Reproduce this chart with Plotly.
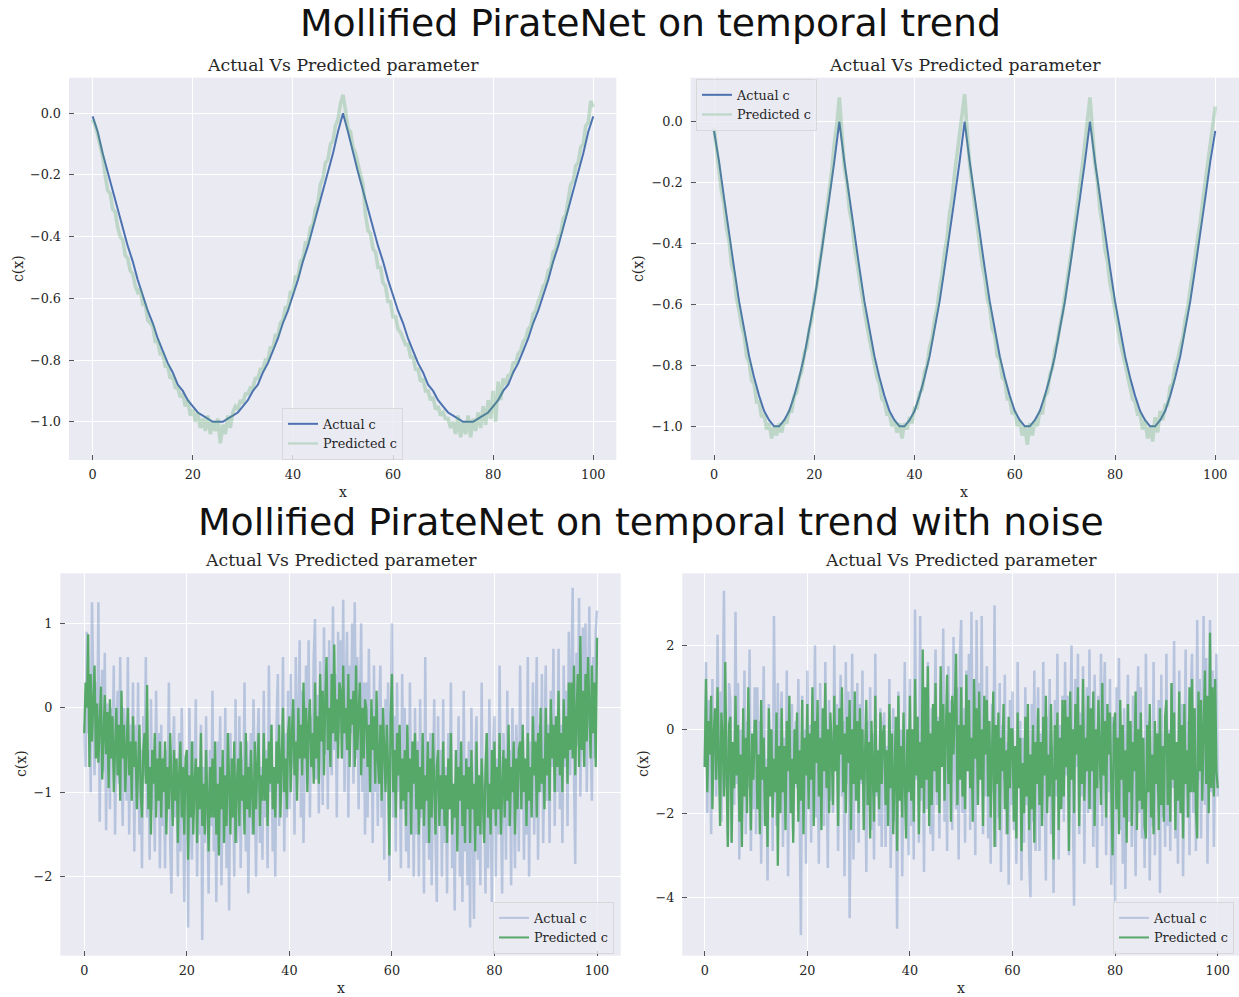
import numpy as np
import plotly.graph_objects as go

# ---------------- data ----------------
X_TICKS = [0, 20, 40, 60, 80, 100]
X_TICKTEXT = ["0", "20", "40", "60", "80", "100"]
Y_TICKS_TOP = [-1.0, -0.8, -0.6, -0.4, -0.2, 0.0]
Y_TICKTEXT_TOP = ["\u22121.0", "\u22120.8", "\u22120.6", "\u22120.4", "\u22120.2", "0.0"]
Y_TICKS_BL = [-2, -1, 0, 1]
Y_TICKTEXT_BL = ["\u22122", "\u22121", "0", "1"]
Y_TICKS_BR = [-4, -2, 0, 2]
Y_TICKTEXT_BR = ["\u22124", "\u22122", "0", "2"]

# top-left: actual c (x = 0..100 step 1)
TL_ACTUAL = [-0.01, -0.06, -0.13, -0.19, -0.25, -0.31, -0.37, -0.43, -0.48, -0.54,
             -0.59, -0.64, -0.68, -0.73, -0.77, -0.81, -0.84, -0.88, -0.90, -0.93,
             -0.95, -0.97, -0.98, -0.99, -1.00, -1.00, -1.00, -0.99, -0.98, -0.97,
             -0.95, -0.93, -0.90, -0.88, -0.84, -0.81, -0.77, -0.73, -0.68, -0.64,
             -0.59, -0.54, -0.48, -0.43, -0.37, -0.31, -0.25, -0.19, -0.13, -0.06,
             0.00,
             -0.06, -0.13, -0.19, -0.25, -0.31, -0.37, -0.43, -0.48, -0.54, -0.59,
             -0.64, -0.68, -0.73, -0.77, -0.81, -0.84, -0.88, -0.90, -0.93, -0.95,
             -0.97, -0.98, -0.99, -1.00, -1.00, -1.00, -0.99, -0.98, -0.97, -0.95,
             -0.93, -0.90, -0.88, -0.84, -0.81, -0.77, -0.73, -0.68, -0.64, -0.59,
             -0.54, -0.48, -0.43, -0.37, -0.31, -0.25, -0.19, -0.13, -0.06, -0.01]

# top-left: predicted c (x = 0..100 step 0.5)
TL_PRED = [-0.02, -0.04, -0.07, -0.11, -0.14,
           -0.20, -0.25, -0.26, -0.31, -0.32, -0.37, -0.40, -0.41, -0.46, -0.47, -0.51, -0.52, -0.56, -0.58,
           -0.57, -0.62, -0.62, -0.67, -0.68, -0.69, -0.74, -0.74, -0.78, -0.78, -0.82, -0.82, -0.86, -0.85,
           -0.89, -0.89, -0.92, -0.91,
           -0.95, -0.93, -0.98, -0.96, -1.00, -0.97, -1.02, -0.99, -1.03, -0.98, -1.04, -1.00, -1.03, -0.99,
           -1.07, -1.01, -1.04, -0.98, -1.02, -0.97,
           -0.95, -0.96, -0.93, -0.94, -0.91, -0.91, -0.89, -0.89, -0.86, -0.86, -0.83, -0.83, -0.80, -0.80,
           -0.76, -0.76, -0.72, -0.72, -0.68, -0.67, -0.63, -0.63, -0.58, -0.58, -0.53, -0.53, -0.48, -0.47,
           -0.42, -0.42, -0.37, -0.36, -0.31, -0.29,
           -0.23, -0.21, -0.16, -0.15, -0.10, -0.09, -0.04, -0.02, 0.03, 0.06,
           0.01, -0.05, -0.06, -0.11, -0.13, -0.17, -0.20, -0.23,
           -0.33, -0.38, -0.39, -0.44, -0.45, -0.50, -0.50, -0.55, -0.56, -0.61, -0.61, -0.66, -0.66, -0.70,
           -0.71, -0.73,
           -0.75, -0.75, -0.79, -0.79, -0.83, -0.83, -0.87, -0.86, -0.90, -0.90, -0.93, -0.92, -0.96, -0.95,
           -0.98, -0.97, -0.99, -0.99, -1.02, -1.00,
           -1.04, -0.98, -1.05, -1.00, -1.04, -0.98, -1.05, -0.99, -1.03, -0.97, -1.02, -0.95,
           -1.01, -0.93, -0.99, -0.90, -1.00, -0.87, -0.93, -0.86,
           -0.88, -0.85, -0.85, -0.81, -0.81, -0.78, -0.77, -0.74, -0.73, -0.70, -0.69, -0.65, -0.64, -0.61,
           -0.59, -0.56, -0.55, -0.51, -0.50, -0.45, -0.44, -0.40, -0.39, -0.34, -0.33, -0.28,
           -0.23, -0.22, -0.17, -0.16, -0.11, -0.10, -0.04, -0.03, 0.04, 0.02]

# top-right: actual c (x = 0..100 step 1)
TR_ACTUAL = [-0.03,
             -0.13, -0.25, -0.37, -0.48, -0.59, -0.68, -0.77, -0.84, -0.90, -0.95, -0.98, -1.00,
             -1.00, -0.98, -0.95, -0.90, -0.84, -0.77, -0.68, -0.59, -0.48, -0.37, -0.25, -0.13, 0.00,
             -0.13, -0.25, -0.37, -0.48, -0.59, -0.68, -0.77, -0.84, -0.90, -0.95, -0.98, -1.00,
             -1.00, -0.98, -0.95, -0.90, -0.84, -0.77, -0.68, -0.59, -0.48, -0.37, -0.25, -0.13, 0.00,
             -0.13, -0.25, -0.37, -0.48, -0.59, -0.68, -0.77, -0.84, -0.90, -0.95, -0.98, -1.00,
             -1.00, -0.98, -0.95, -0.90, -0.84, -0.77, -0.68, -0.59, -0.48, -0.37, -0.25, -0.13, 0.00,
             -0.13, -0.25, -0.37, -0.48, -0.59, -0.68, -0.77, -0.84, -0.90, -0.95, -0.98, -1.00,
             -1.00, -0.98, -0.95, -0.90, -0.84, -0.77, -0.68, -0.59, -0.48, -0.37, -0.25, -0.13, -0.03]

# top-right: predicted c (x = 0..100 step 0.5)
TR_PRED = [-0.02, -0.09, -0.16, -0.23, -0.27, -0.35, -0.39, -0.47, -0.50, -0.58,
           -0.62, -0.67, -0.70, -0.77, -0.79, -0.85, -0.86, -0.92, -0.92, -0.97,
           -0.96, -1.01, -0.99, -1.04, -1.00, -1.03, -0.99, -1.02, -0.98, -0.99,
           -0.95, -0.95, -0.90, -0.89, -0.84, -0.82, -0.76, -0.74, -0.68, -0.65,
           -0.58, -0.54, -0.47, -0.42, -0.35, -0.29, -0.22, -0.16, -0.07, -0.01, 0.08,
           -0.04, -0.15, -0.20, -0.29, -0.33, -0.41, -0.46, -0.52, -0.57, -0.62,
           -0.67, -0.71, -0.76, -0.79, -0.84, -0.86, -0.91, -0.92, -0.96, -0.96,
           -1.00, -0.98, -1.02, -0.99, -1.04, -0.99, -1.01, -0.97, -0.99, -0.94,
           -0.94, -0.89, -0.88, -0.82, -0.80, -0.74, -0.71, -0.65, -0.61, -0.55,
           -0.50, -0.43, -0.38, -0.30, -0.25, -0.17, -0.11, -0.05, 0.01, 0.09,
           -0.03, -0.14, -0.21, -0.28, -0.34, -0.40, -0.47, -0.51, -0.58, -0.61,
           -0.68, -0.70, -0.77, -0.78, -0.84, -0.85, -0.91, -0.91, -0.96, -0.95,
           -1.00, -0.98, -1.03, -1.00, -1.06, -0.99, -1.03, -0.98, -1.00, -0.95,
           -0.96, -0.90, -0.89, -0.83, -0.81, -0.75, -0.72, -0.67, -0.63, -0.57,
           -0.52, -0.46, -0.40, -0.34, -0.27, -0.21, -0.14, -0.07, 0.00, 0.08,
           -0.03, -0.14, -0.20, -0.29, -0.34, -0.42, -0.46, -0.53, -0.57, -0.63,
           -0.67, -0.72, -0.76, -0.80, -0.84, -0.87, -0.91, -0.92, -0.96, -0.96,
           -1.01, -0.98, -1.04, -1.00, -1.05, -0.97, -1.02, -0.95, -0.98, -0.93,
           -0.93, -0.87, -0.86, -0.80, -0.78, -0.74, -0.71, -0.65, -0.61, -0.55,
           -0.50, -0.44, -0.38, -0.33, -0.26, -0.20, -0.13, -0.07, -0.01, 0.05]

# bottom-left (with noise): x = 0..100 step 0.25
BL_ACTUAL = [
    -0.2, -0.7, 0.9, -0.3, 0.4, -1.0, 1.25, 0.0, -0.8, 0.3, -0.55, 1.25, -1.35, -0.05, 0.45, -0.75, 0.65, -1.45, 0.05, -0.35,
    -1.2, 0.0, -0.6, 0.5, -1.5, -0.3, 0.2, -0.9, 0.6, -0.7, -1.4, 0.0, -0.3, -1.1, 0.6, -1.5, -0.2, -0.9, 0.3, -1.7,
    -0.2, -1.0, 0.3, -1.5, -0.5, -1.9, -0.1, -0.8, 0.6, -1.3, -0.5, -1.8, 0.1, -1.2, -0.7, -1.7, 0.2, -1.0, -0.3, -1.9,
    -0.2, -1.4, -0.6, -1.9, -0.5, -1.1, 0.3, -1.6, -2.2, -0.6, -0.1, -1.3, -0.8, -2.0, -0.3, -1.7, 0.0, -1.0, -2.3, -0.7,
    -0.6, -2.6, 0.0, -1.3, -1.8, -0.4, -1.1, 0.1, -2.0, -0.8, -1.5, -0.2, -2.75, -0.7, -1.6, -0.1, -1.2, -2.2, -0.5, -1.4,
    0.2, -1.7, -0.7, -2.3, -0.4, -1.2, -0.1, -2.1, -0.9, -1.5, 0.0, -1.9, -0.6, -2.4, -0.3, -1.3, -0.8, -2.0, 0.1, -1.6,
    -1.3, -0.1, -1.9, -0.6, -1.1, 0.3, -1.7, -0.4, -2.2, -0.8, -0.3, -1.5, 0.1, -1.0, -2.0, -0.5, 0.0, -1.6, -0.7, -1.8,
    0.2, -1.3, -0.5, -1.9, 0.5, -1.0, -0.2, -1.7, -0.7, -2.0, -0.2, 0.4, -1.4, -0.5, -1.0, 0.6, -1.7, -0.3, -1.3, 0.2,
    -1.2, 0.4, -0.7, 0.0, -1.5, 0.6, -0.9, -0.3, 0.8, -1.3, 0.2, -1.6, -0.3, 0.5, -0.9, 0.8, -1.3, -0.1, -0.5, 0.6,
    1.05, -0.85, 0.15, -1.25, 0.55, -0.15, -1.15, 0.95, -0.55, 0.35, -1.2, 0.8, 0.1, -0.8, 1.2, -0.5, 0.4, -1.3, 0.9, -0.3,
    0.8, -0.6, 1.28, -1.0, 0.2, 0.9, -1.3, 0.5, -0.3, 1.0, -0.9, 1.25, -0.6, 0.6, -1.2, 0.0, 1.0, -1.0, 0.3, -1.5,
    0.3, -1.3, 0.7, -0.7, 0.0, -1.6, 0.5, -1.0, -0.2, -1.4, 0.0, 0.5, -1.3, -0.2, -1.8, 0.1, -0.9, 0.3, -2.05, -0.4,
    1.0, -1.3, -0.1, -1.7, 0.3, -1.0, -0.5, -1.9, 0.4, -1.2, 0.0, -1.7, -0.5, -1.9, 0.3, -1.0, -0.4, -2.0, 0.0, -1.5,
    -0.4, -2.0, 0.1, -1.3, -0.8, -2.2, 0.6, -1.6, -0.6, -1.8, -0.3, -2.1, -0.7, 0.1, -1.5, -2.3, -0.1, -1.2, -0.5, -2.0,
    0.1, -1.6, -0.7, -2.2, -0.3, -1.2, 0.3, -1.9, -0.9, -2.4, -0.5, -1.4, -0.1, -2.0, -0.8, -2.3, 0.2, -1.7, -0.6, -2.1,
    -0.4, -2.6, 0.0, -1.3, -2.5, -0.6, -0.1, -1.8, -0.8, -2.1, 0.3, -1.5, -0.9, -2.2, -0.3, -1.9, 0.1, -1.2, -2.3, -0.5,
    -0.1, -2.0, -0.6, -1.5, 0.5, -1.1, -2.2, -0.3, -0.8, -1.8, 0.2, -1.4, -0.5, -2.1, 0.0, -1.0, -1.9, -0.2, -0.7, -1.7,
    0.5, -1.2, -0.2, -1.8, -0.6, -1.5, 0.6, -2.0, -0.4, -1.0, 0.3, -1.5, -0.6, 0.6, -1.8, -0.2, -1.0, 0.4, -1.6, -0.4,
    0.5, -1.1, -0.2, -1.6, 0.2, -0.7, 0.7, -1.4, -0.1, -1.0, 0.7, -1.2, -0.2, -1.6, 0.5, -0.7, 0.2, -1.4, 0.9, -0.8,
    0.55, 1.42, -0.75, -1.85, 0.65, -0.45, 1.3, -1.05, 0.05, 0.95, -0.7, 1.0, -1.0, 0.3, 1.2, -0.4, -1.1, 0.6, -0.6, 0.9,
    1.15]

BL_PRED = [
    -0.3, 0.3, 0.0, 0.87, -0.7, 0.4, -0.4, 0.1, 0.5, -0.6, 0.05, -0.65, -0.15, 0.25, -0.85, -0.35, 0.15, -0.55, -0.05, -0.95,
    0.1, -0.6, -0.1, -1.0, -0.3, 0.0, -0.8, -0.2, -1.1, 0.2, -0.6, -0.2, -1.0, -0.3, 0.0, -0.8, -0.4, -1.1, -0.1, -0.7,
    -0.4, -1.2, -0.6, -0.2, -1.0, -1.3, -0.5, -0.3, -0.9, 0.27, -1.2, -0.7, -1.5, -0.5, -0.9, -0.3, -1.3, -0.6, -1.1, -0.4,
    -1.3, -0.6, -1.0, -0.4, -1.5, -0.7, -1.2, -0.3, -0.9, -1.4, -0.5, -1.1, -0.6, -1.6, -0.8, -0.4, -1.3, -0.7, -1.5, -0.6,
    -0.5, -1.8, -0.8, -1.3, -0.4, -1.5, -0.9, -0.6, -1.6, -0.7, -1.2, -0.3, -1.4, -0.9, -1.5, -0.5, -1.1, -1.7, -0.7, -1.3,
    -0.6, -1.3, -0.4, -1.5, -0.9, -1.75, -0.7, -1.2, -0.5, -1.6, -0.8, -1.4, -0.3, -1.1, -1.5, -0.6, -1.3, -0.4, -1.6, -0.9,
    -0.6, -1.4, -0.4, -1.1, -0.8, -1.5, -0.3, -1.2, -0.7, -1.3, -0.5, -1.0, -1.5, -0.4, -1.2, -0.7, -0.3, -1.4, -0.8, -1.1,
    -0.3, -1.1, -0.6, -1.4, -0.4, -0.9, -0.2, -1.2, -0.7, -1.3, -0.4, -0.9, -0.2, -1.3, -0.5, 0.0, -1.0, -0.6, -1.2, -0.3,
    -0.1, -1.0, -0.3, 0.1, -0.8, -0.4, -1.1, 0.0, -0.6, -0.2, -0.8, 0.3, -0.6, 0.0, -1.0, -0.2, 0.1, -0.7, -0.3, -0.9,
    0.3, -0.6, -0.1, -0.9, 0.4, -0.4, 0.2, -0.8, 0.1, 0.6, -0.5, 0.0, -0.7, 0.4, -0.3, 0.75, -0.4, 0.1, -0.6, 0.3,
    0.2, -0.6, 0.5, -0.3, 0.0, -0.5, 0.4, -0.7, 0.1, -0.2, 0.2, -0.7, 0.5, -0.5, -0.1, 0.3, -0.8, 0.0, -0.6, 0.1,
    0.0, -0.7, -0.2, -1.0, 0.1, -0.5, -0.1, -0.9, 0.2, -0.6, -0.9, -0.2, -1.1, 0.0, -0.5, -1.0, -0.2, -0.7, -1.75, -0.1,
    0.4, -1.0, -0.5, -1.3, -0.3, -0.8, -0.2, -1.2, -0.6, -1.1, -0.5, -1.4, -0.2, -1.0, -0.6, -1.5, -0.4, -0.9, -0.3, -1.2,
    -0.5, -1.5, -0.7, -1.2, -0.3, -1.4, -0.8, -1.1, -0.4, -1.6, -0.6, -1.3, -0.3, -1.0, -1.5, -0.7, -0.5, -1.4, -0.8, -1.2,
    -0.4, -1.4, -0.8, -1.6, -0.6, -1.2, -0.3, -1.5, -0.9, -1.3, -0.5, -1.7, -0.7, -1.1, -0.4, -1.4, -0.8, -1.6, -0.6, -1.2,
    -0.7, -1.6, -0.5, -1.2, -0.9, -1.7, -0.4, -1.4, -0.8, -1.5, -0.6, -1.1, -1.6, -0.7, -0.3, -1.3, -0.9, -1.5, -0.5, -1.2,
    -0.4, -1.4, -0.7, -1.2, -0.3, -1.5, -0.8, -0.5, -1.3, -0.6, -1.1, -0.2, -1.4, -0.7, -1.0, -0.4, -1.5, -0.6, -1.2, -0.5,
    -0.4, -1.2, -0.2, -1.0, -0.6, -1.4, -0.3, -1.1, -0.7, -1.3, -0.1, -0.8, -0.4, -1.3, -0.3, -1.0, 0.0, -0.9, -0.6, -1.2,
    0.0, -0.8, -0.3, -1.1, 0.1, -0.6, -0.2, -1.0, -0.1, -0.7, 0.2, -0.8, -0.3, -1.0, 0.1, -0.6, -0.1, -0.9, 0.3, -0.5,
    0.3, -0.6, 0.5, -0.8, -0.1, 0.4, -0.7, 0.85, -0.5, 0.2, -0.7, 0.4, -0.4, 0.6, 0.0, -0.6, 0.5, -0.3, 0.3, -0.7,
    0.83]

# bottom-right (with noise): x = 0..100 step 0.25
BR_ACTUAL = [
    -0.9, 1.6, -2.0, 0.7, -0.1, -2.5, 1.2, -1.2, 0.2, -1.6, 2.25, -0.7, 0.9, -2.2, 0.5, 3.3, -1.4, -0.2, -2.6, 1.1,
    0.7, -2.7, -0.4, -1.8, 2.8, -1.3, 1.1, -3.1, 0.0, -2.2, -0.7, 1.4, -2.5, 0.2, -1.4, 1.9, -2.9, -0.3, -1.9, 1.0,
    -2.5, 1.0, -1.7, 0.2, -3.2, -0.4, 1.5, -2.2, -0.7, -3.6, 0.6, -1.4, 0.0, -2.9, 2.7, -0.8, -2.3, 1.1, -1.9, -0.2,
    0.9, -2.8, -0.2, -1.8, 1.4, -3.5, 0.1, -1.1, 0.6, -2.5, -0.5, 0.2, -1.4, 1.2, -2.2, -4.9, 0.8, -1.7, 0.0, -3.2,
    1.4, -1.5, 0.1, -2.7, 0.8, -0.8, 2.0, -2.1, -0.3, -3.2, 1.1, -1.2, 0.3, -2.3, 1.6, -0.6, -3.3, 0.7, -1.7, 0.0,
    -2.0, 2.0, -1.0, 0.6, -2.9, -0.1, 1.3, -1.6, 0.2, -3.5, 1.6, -1.3, 0.9, -4.5, -0.6, 1.8, -3.1, 0.4, -1.4, 1.1,
    -2.7, 0.6, -1.3, 1.4, -2.1, -0.4, -3.4, 0.2, -1.0, 1.0, -2.4, -0.1, -3.1, 1.8, -1.6, -0.6, -2.3, 0.5, -2.8, 0.1,
    0.4, -2.8, -0.4, -1.9, 1.2, -3.3, -0.8, 0.5, -2.2, -0.2, -4.75, 0.9, -1.6, 0.0, -3.5, -0.6, 1.6, -2.4, -0.9, -3.0,
    1.2, -2.3, 0.0, -3.1, 2.85, -1.2, 0.3, -2.7, 2.7, -1.7, -0.3, -3.4, 0.9, -1.9, 1.6, -1.0, -2.5, 0.5, -2.9, 0.1,
    1.9, -1.8, 0.3, -2.6, 1.2, -0.9, 2.4, -2.2, -0.1, -2.9, 1.5, -1.3, 0.7, -2.4, 2.2, -0.6, -1.9, 1.0, -3.1, 1.8,
    2.6, -2.0, 0.5, -2.7, 1.4, -1.0, 1.8, -2.4, 2.8, -1.4, 0.0, -3.0, 2.6, -1.8, 1.1, -0.7, 2.7, -2.5, 0.4, -1.6,
    1.5, -2.6, -0.2, -3.2, 0.6, -1.5, 2.95, -2.8, -0.6, -2.1, 1.1, -3.4, 0.1, -1.2, 1.3, -2.5, -0.3, -3.7, 0.7, -1.8,
    0.9, -2.4, -0.5, -3.2, 1.6, -1.3, 0.2, -3.6, -0.2, -2.7, 1.0, -1.8, -0.7, -3.1, -4.0, 0.6, -2.2, 1.4, -2.9, -0.3,
    1.0, -2.9, -0.1, -2.1, 1.6, -1.3, -3.6, 0.3, -1.0, 1.2, -2.5, -0.4, -3.9, 0.7, -1.6, 1.8, -3.1, 0.1, -1.8, 0.8,
    -2.2, 1.6, -1.1, 0.8, -3.0, 0.1, 2.0, -1.7, -4.2, 1.2, -0.9, 1.8, -2.5, 0.4, -1.6, 1.5, -3.2, -0.1, 1.0, -2.0,
    1.9, -1.9, 0.2, -2.8, 1.3, -0.7, -3.3, 0.8, -1.2, 1.8, -2.3, 0.5, 1.6, -3.0, -0.2, -1.5, 1.2, -3.7, 0.3, -1.8,
    -4.1, 1.0, -1.7, 1.7, -2.4, -0.2, -3.2, 0.5, -3.8, -0.5, 1.3, -2.2, 0.1, -2.8, 0.8, -1.3, -3.5, 0.2, 1.5, -2.0,
    1.0, -2.6, -0.3, -3.3, 1.8, -1.4, 0.2, -3.6, -0.6, -2.3, 1.6, -3.0, -0.1, -1.5, 0.7, -3.9, 1.3, -2.1, -0.8, -2.8,
    1.8, -2.3, 0.0, -2.9, 1.1, -1.4, 2.1, -2.6, -0.4, -3.2, 1.4, -1.8, 0.6, -3.5, -0.3, 1.9, -2.1, 0.2, -3.0, 0.9,
    1.8, -2.0, 0.5, -2.9, 2.6, -1.2, 1.2, -2.6, -0.1, 2.7, -1.8, 1.7, -3.2, 0.3, 2.6, -1.5, 1.4, -2.8, 0.1, 1.8,
    -1.6]

BR_PRED = [
    -0.9, 1.2, -1.5, 0.2, -0.6, 0.8, -1.9, -0.1, 0.5, -1.2, 1.0, -0.8, -2.3, 0.4, -0.3, -1.6, 1.6, -1.0, -2.8, 0.1,
    0.3, -2.7, -0.3, -1.4, 0.8, -1.1, 0.1, -2.2, -0.6, -2.8, 0.5, -1.6, -0.2, -2.0, 1.0, -0.9, -2.4, -0.1, -1.2, 0.2,
    0.2, -1.9, -0.6, -2.5, 0.7, -1.2, -0.2, -2.3, -0.9, -2.8, 0.5, -1.6, 0.0, -2.1, -0.7, -1.5, 0.4, -3.25, -0.4, -2.0,
    0.5, -1.5, -0.4, -2.4, 0.2, -1.0, 0.8, -2.0, -0.7, -2.7, 0.0, -1.3, 0.4, -2.2, -0.5, -1.7, 0.7, -2.5, -0.2, -1.1,
    0.6, -1.9, -0.1, -1.2, 1.0, -2.3, 0.2, -0.8, 0.7, -1.6, -0.2, -2.4, 0.5, -1.0, 1.1, -1.4, 0.0, -2.0, 0.4, -0.5,
    -1.8, 0.8, -1.0, 0.1, -2.3, 0.5, -0.6, 1.0, -1.5, -0.1, -2.0, 0.3, -0.8, 0.7, -2.4, 0.0, -1.3, 0.9, -1.7, 0.2,
    -2.0, 0.5, -1.2, 0.0, -2.4, -0.6, 0.7, -1.8, -0.3, -2.6, 0.2, -1.0, -2.2, 0.8, -1.5, -0.5, -1.9, 0.4, -1.3, -0.1,
    0.1, -1.8, -0.5, -2.3, 0.6, -1.4, -0.1, -2.5, -0.8, 0.3, -2.9, 0.8, -1.7, -0.4, -2.1, 0.4, -1.2, -2.6, 0.0, -1.5,
    0.8, -1.7, 0.0, -2.2, 1.2, -1.1, 0.3, -2.5, -0.3, -1.4, 1.9, -2.0, 1.0, -1.2, 1.5, -2.3, -0.1, -1.8, 0.6, -1.0,
    1.1, -1.5, 0.2, -2.0, 1.5, -0.9, 0.6, -1.7, -0.1, 1.3, -1.3, 0.4, -2.2, 0.8, -0.6, 1.0, 1.8, -1.8, 0.1, -1.2,
    1.0, -1.6, 0.1, -1.9, 1.3, -1.0, 0.7, -1.4, -0.2, -2.2, 1.2, -0.7, 0.5, -1.8, 0.9, -1.2, 0.0, -2.3, 0.8, -0.6,
    0.7, -1.6, 0.2, -2.1, -0.4, 0.9, -2.8, 0.1, -1.3, 0.4, -2.4, -0.2, -1.0, 0.6, -1.9, -0.5, -2.5, 0.3, -1.4, 0.0,
    0.0, -2.2, -0.4, -2.6, 0.4, -1.4, -0.2, -2.9, -0.8, -2.0, 0.3, -1.6, 0.6, -2.4, -0.6, -1.9, 0.1, -2.7, -0.3, -1.3,
    0.5, -1.8, -0.3, -2.3, 0.3, -1.1, 0.8, -2.0, -0.6, -1.6, 0.6, -1.4, -3.1, 0.1, -1.2, 0.4, -2.4, -0.2, -1.9, 0.7,
    -1.6, 0.7, -0.9, 0.3, -2.9, 0.9, -1.2, 0.0, -2.0, 0.6, -0.6, 1.0, -2.3, 0.1, -1.3, 1.2, -1.7, -0.2, -1.0, 0.8,
    -1.9, 0.5, -1.0, 0.9, -2.3, 0.0, -1.4, 0.7, -0.7, -1.8, 1.1, -1.1, 0.2, -2.1, 0.6, -0.6, 0.4, -1.6, -3.0, 0.1,
    0.4, -1.9, -0.2, -2.5, 0.7, -1.2, 0.1, -2.1, -0.5, -2.7, 0.6, -1.5, 0.2, -2.3, -0.3, -1.0, 0.9, -2.4, 0.0, -1.7,
    0.4, -1.9, -0.2, -2.3, -2.6, 0.1, -1.5, 0.6, -2.1, -0.6, -2.5, 0.2, -1.3, -0.1, -2.4, 0.5, -1.8, -0.4, -2.2, 0.3,
    0.7, -1.8, -0.1, -2.2, 1.1, -1.2, 0.4, -2.4, -0.3, -1.7, 0.9, -2.0, 0.1, -2.6, 0.6, -1.3, -0.5, -2.1, 1.0, -1.5,
    1.2, -1.5, 0.5, -1.9, -2.6, 0.9, -1.0, 0.7, -1.7, 0.0, 1.4, -1.3, 0.8, -2.0, 2.3, -1.4, 1.0, -1.6, 1.2, -1.0,
    -1.4]

# ---------------- styling ----------------
W, H = 1239, 997
BG = "#EAEAF2"
BLUE = "#4C72B0"
GREEN = "#55A868"
BLUE_LIGHT = "rgba(76,114,176,0.32)"
GREEN_LIGHT = "rgba(85,168,104,0.30)"
SERIF = "DejaVu Serif"
SANS = "DejaVu Sans"
TXT = "#262626"


def fx(p):
    return p / W


def fy(p):
    return 1 - p / H


def grid_x(vals):
    return np.linspace(0, 100, len(vals))


fig = go.Figure()

panels = [
    dict(ax="", box=(69, 77.7, 616.3, 460), xr=[-4.73, 104.6], yr=[-1.124, 0.1154],
         yt=Y_TICKS_TOP, ytt=Y_TICKTEXT_TOP),
    dict(ax="2", box=(690.7, 77.7, 1239, 460), xr=[-4.65, 104.73], yr=[-1.1106, 0.1445],
         yt=Y_TICKS_TOP, ytt=Y_TICKTEXT_TOP),
    dict(ax="3", box=(60.3, 573.3, 620.7, 955.7), xr=[-4.68, 104.62], yr=[-2.935, 1.592],
         yt=Y_TICKS_BL, ytt=Y_TICKTEXT_BL),
    dict(ax="4", box=(682.3, 573.3, 1239, 955.7), xr=[-4.37, 104.15], yr=[-5.39, 3.714],
         yt=Y_TICKS_BR, ytt=Y_TICKTEXT_BR),
]


def legend_entry(name, color, width, ax, leg):
    # legend-only handle (no data points drawn)
    return go.Scatter(x=[None], y=[None], mode="lines", name=name, line=dict(color=color, width=width),
                      xaxis="x" + ax, yaxis="y" + ax, legend=leg, showlegend=True, hoverinfo="skip")


for ax, leg, act, pred in [("", "legend", TL_ACTUAL, TL_PRED), ("2", "legend2", TR_ACTUAL, TR_PRED)]:
    fig.add_trace(go.Scatter(x=grid_x(act), y=act, mode="lines", name="Actual c", showlegend=False,
                             line=dict(color=BLUE, width=2), xaxis="x" + ax, yaxis="y" + ax))
    fig.add_trace(go.Scatter(x=grid_x(pred), y=pred, mode="lines", name="Predicted c", showlegend=False,
                             line=dict(color=GREEN_LIGHT, width=3.6), xaxis="x" + ax, yaxis="y" + ax))
    fig.add_trace(legend_entry("Actual c", BLUE, 2, ax, leg))
    fig.add_trace(legend_entry("Predicted c", GREEN_LIGHT, 2.2, ax, leg))

for ax, leg, act, pred in [("3", "legend3", BL_ACTUAL, BL_PRED), ("4", "legend4", BR_ACTUAL, BR_PRED)]:
    fig.add_trace(go.Scatter(x=grid_x(act), y=act, mode="lines", name="Actual c", showlegend=False,
                             line=dict(color=BLUE_LIGHT, width=2.5), xaxis="x" + ax, yaxis="y" + ax))
    fig.add_trace(go.Scatter(x=grid_x(pred), y=pred, mode="lines", name="Predicted c", showlegend=False,
                             line=dict(color=GREEN, width=2.3), xaxis="x" + ax, yaxis="y" + ax))
    fig.add_trace(legend_entry("Actual c", BLUE_LIGHT, 2, ax, leg))
    fig.add_trace(legend_entry("Predicted c", GREEN, 2, ax, leg))

layout = dict(
    width=W, height=H, autosize=False,
    margin=dict(l=0, r=0, t=0, b=0),
    paper_bgcolor="white", plot_bgcolor=BG,
    font=dict(family=SERIF, size=13, color=TXT),
    showlegend=True,
)

axis_common = dict(
    showgrid=True, gridcolor="white", gridwidth=1, zeroline=False, showline=False,
    ticks="inside", ticklen=5, tickwidth=1, tickcolor="#555555",
    tickfont=dict(family=SERIF, size=12.8, color=TXT),
)

annotations = []
for p in panels:
    l, t, r, b = p["box"]
    xa = "xaxis" + p["ax"]
    ya = "yaxis" + p["ax"]
    layout[xa] = dict(axis_common, domain=[fx(l), fx(r)], range=p["xr"], anchor="y" + p["ax"],
                      tickvals=X_TICKS, ticktext=X_TICKTEXT, ticklabelstandoff=5)
    layout[ya] = dict(axis_common, domain=[fy(b), fy(t)], range=p["yr"], anchor="x" + p["ax"],
                      tickvals=p["yt"], ticktext=p["ytt"], ticklabelstandoff=7)
    cx = (l + min(r, W)) / 2
    annotations.append(dict(text="Actual Vs Predicted parameter", x=fx(cx), y=fy(t - 13),
                            xref="paper", yref="paper", showarrow=False, xanchor="center",
                            yanchor="middle", font=dict(family=SERIF, size=17.3, color=TXT)))

for xc, yc in [(342.6, 492), (964.0, 492), (340.5, 988), (961.0, 988)]:
    annotations.append(dict(text="x", x=fx(xc), y=fy(yc), xref="paper", yref="paper",
                            showarrow=False, xanchor="center", yanchor="middle",
                            font=dict(family=SERIF, size=14, color=TXT)))
for xc, yc in [(18, 269), (638, 269), (21, 764), (643, 764)]:
    annotations.append(dict(text="c(x)", x=fx(xc), y=fy(yc), xref="paper", yref="paper",
                            showarrow=False, xanchor="center", yanchor="middle", textangle=-90,
                            font=dict(family=SERIF, size=14, color=TXT)))

annotations.append(dict(text="Mollified PirateNet on temporal trend", x=fx(650.5), y=fy(23),
                        xref="paper", yref="paper", showarrow=False, xanchor="center",
                        yanchor="middle", font=dict(family=SANS, size=37.8, color="#111111")))
annotations.append(dict(text="Mollified PirateNet on temporal trend with noise", x=fx(650.5), y=fy(522),
                        xref="paper", yref="paper", showarrow=False, xanchor="center",
                        yanchor="middle", font=dict(family=SANS, size=37.8, color="#111111")))
layout["annotations"] = annotations

legend_common = dict(bgcolor="rgba(234,234,242,0.8)", bordercolor="rgba(204,204,204,0.6)",
                     borderwidth=1, font=dict(family=SERIF, size=12.8, color=TXT),
                     itemwidth=30, xanchor="left", yanchor="top", xref="paper", yref="paper",
                     tracegroupgap=0)
layout["legend"] = dict(legend_common, x=fx(282), y=fy(408))
layout["legend2"] = dict(legend_common, x=fx(696), y=fy(79))
layout["legend3"] = dict(legend_common, x=fx(493), y=fy(902))
layout["legend4"] = dict(legend_common, x=fx(1113), y=fy(902))

fig.update_layout(**layout)
fig.write_html("out.html")
